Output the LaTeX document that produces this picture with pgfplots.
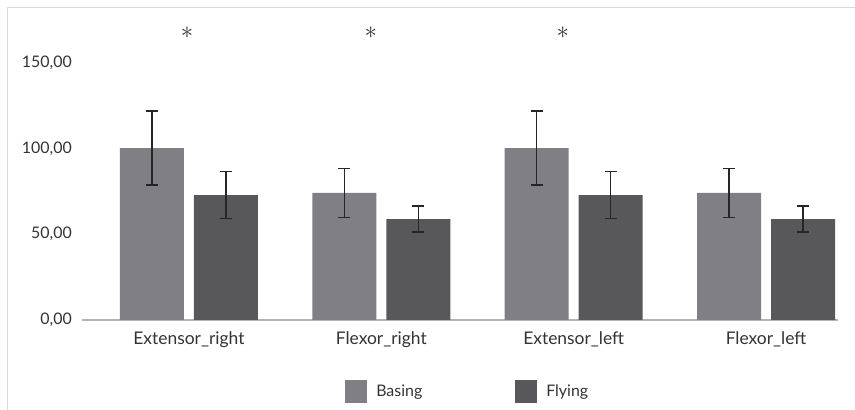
\documentclass[border=0pt]{standalone}
\usepackage{fontspec}
\setmainfont{Lato}
\usepackage{pgfplots}
\pgfplotsset{compat=1.18}

\definecolor{basing}{HTML}{808084}
\definecolor{flying}{HTML}{58585A}
\definecolor{txt}{HTML}{333333}

\begin{document}
\begin{tikzpicture}
\useasboundingbox (0,0) rectangle (855bp,410bp);
\draw[color=black!15, line width=1.2bp] (7.5bp,0) -- (7.5bp,402.5bp) -- (855bp,402.5bp);
\begin{axis}[
  at={(82bp,90bp)}, anchor=south west,
  scale only axis,
  width=756bp, height=291.4bp,
  ybar,
  bar width=64bp,
  xmin=-0.556, xmax=3.374,
  ymin=0, ymax=170,
  xtick={0,1,2,3},
  xticklabels={Extensor\_right, Flexor\_right, Extensor\_left, Flexor\_left},
  ytick={0,50,100,150},
  major tick length=0pt,
  axis x line*=bottom,
  axis y line*=left,
  x axis line style={color=black!30, line width=1.4bp},
  y axis line style={draw=none},
  tick label style={font=\fontsize{16}{19}\selectfont, text=txt},
  xticklabel style={anchor=base, inner sep=0pt, yshift=-24bp, font=\fontsize{17.5}{20}\selectfont},
  yticklabel style={anchor=east, inner sep=0pt, xshift=-10bp},
  /pgf/number format/.cd, fixed, fixed zerofill, precision=2, use comma, 1000 sep={}, assume math mode=true,
  /pgfplots/.cd,
  error bars/error bar style={line width=1.2bp, color=black!85},
  error bars/error mark options={line width=1.2bp, mark size=6bp, rotate=90, color=black!85},
  legend columns=2,
  legend style={draw=none, fill=none, at={(0.348,-0.245)}, anchor=west,
    inner sep=0pt, font=\fontsize{16}{19}\selectfont, text=txt,
    nodes={inner sep=0pt, anchor=base west},
    /tikz/every odd column/.append style={column sep=9bp},
    /tikz/every even column/.append style={column sep=93bp}},
  legend image code/.code={\fill[#1] (0bp,-6bp) rectangle (22bp,16.7bp);},
]
\addplot[fill=basing, draw=none, bar shift=-37bp,
  error bars/.cd, y dir=both, y explicit]
coordinates {
  (0,100.3) +- (0,21.6)
  (1,74.1)  +- (0,14.5)
  (2,100.3) +- (0,21.6)
  (3,74.1)  +- (0,14.2)
};
\addlegendentry{Basing}
\addplot[fill=flying, draw=none, bar shift=37bp,
  error bars/.cd, y dir=both, y explicit]
coordinates {
  (0,72.9) +- (0,13.7)
  (1,58.9) +- (0,7.6)
  (2,72.9) +- (0,13.8)
  (3,58.9) +- (0,7.6)
};
\addlegendentry{Flying}
% significance markers
\addplot[forget plot, draw=none, fill=none, bar width=0pt, bar shift=0pt,
  nodes near coords={$\ast$},
  every node near coord/.append style={anchor=center, inner sep=0pt,
    font=\fontsize{26}{30}\selectfont, text=txt}]
coordinates {
  (-0.01,167.3)
  (0.946,167.3)
  (1.944,167.3)
};
\end{axis}
\end{tikzpicture}
\end{document}
